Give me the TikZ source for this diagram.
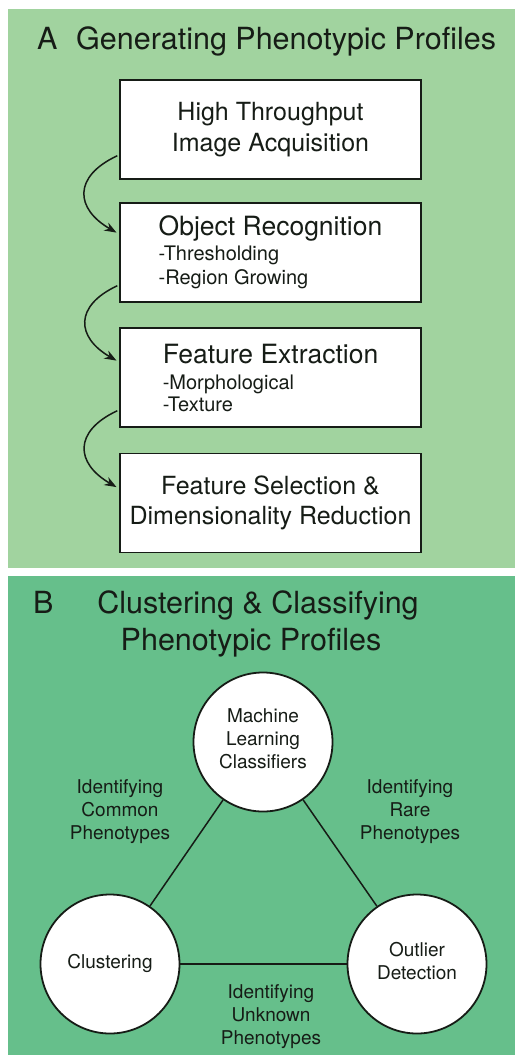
\documentclass[tikz,border=0pt]{standalone}
\usepackage{fontspec}
\setmainfont{TeX Gyre Heros}
\usetikzlibrary{arrows.meta}
\definecolor{panela}{RGB}{161,211,159}
\definecolor{panelb}{RGB}{102,191,139}
\definecolor{ink}{RGB}{22,28,22}
\newcommand{\substep}[1]{{\fontsize{20}{24}\selectfont #1}}
\newcommand{\stephead}[1]{{\fontsize{26.5}{31}\selectfont #1}}
\tikzset{
  procbox/.style={draw=ink, fill=white, line width=1.8pt, minimum width=301pt,
    minimum height=99pt, inner sep=0pt, text=ink, font=\fontsize{25}{31}\selectfont},
  method/.style={circle, draw=ink, fill=white, line width=1.8pt, minimum size=139pt,
    inner sep=0pt, align=center, text=ink, font=\fontsize{19}{23}\selectfont},
  edgelabel/.style={align=center, inner sep=0pt, text=ink, font=\fontsize{19}{23}\selectfont},
  heading/.style={inner sep=0pt, text=ink, font=\fontsize{30.5}{37}\selectfont},
  flow/.style={->, line width=1.5pt, draw=ink, shorten <=2pt, shorten >=3pt},
  link/.style={line width=1.5pt, draw=ink}
}
\begin{document}
\begin{tikzpicture}[x=1pt, y=-1pt, >={Stealth[length=12pt,width=9pt]}]
   \useasboundingbox (0,0) rectangle (515,1057);
   \fill [panela] (8,9) rectangle (515,568);
   \fill [panelb] (8,576) rectangle (515,1055);
   % panel A
   \node [heading, anchor=base west] (letterA) at (37,50) {A};
   \node [heading, anchor=base west] (titleA) at (76,50) {Generating Phenotypic Profiles};
   \node [procbox, align=center] (acq) at (270.5,129.5) {High Throughput\\Image Acquisition};
   \node [procbox, align=left] (rec) at (270.5,252.5) {\stephead{Object Recognition}\\[-6pt]\substep{-Thresholding}\\[-7pt]\substep{-Region Growing}};
   \node [procbox, align=left] (ext) at (270.5,377.5) {\stephead{Feature Extraction}\\[-5pt]\substep{-Morphological}\\[-9pt]\substep{-Texture}};
   \node [procbox, align=center] (sel) at (270.5,503) {Feature Selection \&\\[-1pt]Dimensionality Reduction};
   \draw [flow] ([yshift=25pt]acq.south west) to[out=205,in=150,looseness=1.65] ([yshift=-32pt]rec.north west);
   \draw [flow] ([yshift=18pt]rec.south west) to[out=205,in=150,looseness=1.65] ([yshift=-35pt]ext.north west);
   \draw [flow] ([yshift=18pt]ext.south west) to[out=205,in=150,looseness=1.65] ([yshift=-36pt]sel.north west);
   % panel B
   \node [heading, anchor=base west] (letterB) at (33,613) {B};
   \node [heading, anchor=base] (titleB) at (258,613) {Clustering \& Classifying};
   \node [heading, anchor=base] (titleBb) at (251,650) {Phenotypic Profiles};
   \node [method] (mlc) at (263,742) {Machine\\Learning\\Classifiers\strut};
   \node [method] (clu) at (110,964) {Clustering\strut};
   \node [method] (out) at (417,964) {Outlier\\Detection\strut};
   \draw [link] (mlc) -- (clu);
   \draw [link] (mlc) -- (out);
   \draw [link] (clu) -- (out);
   \node [edgelabel] (common) at (120,812) {Identifying\\Common\\Phenotypes};
   \node [edgelabel] (rare) at (410,812) {Identifying\\Rare\\Phenotypes};
   \node [edgelabel] (unknown) at (271,1017) {Identifying\\Unknown\\Phenotypes};
\end{tikzpicture}
\end{document}
